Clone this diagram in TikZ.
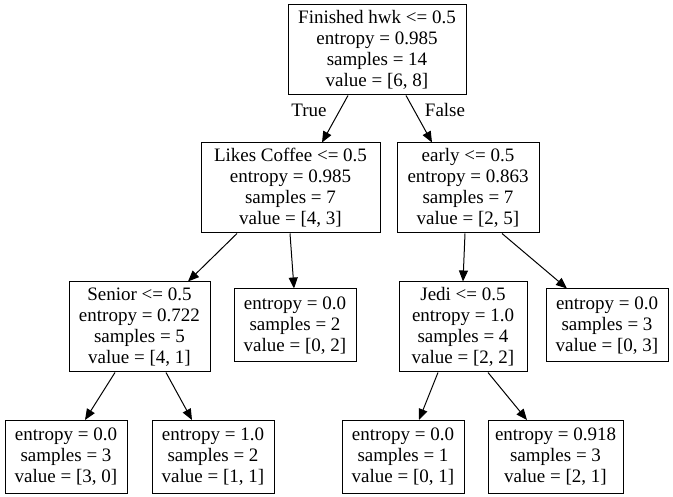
\documentclass[tikz,border=0pt]{standalone}
\usepackage{fontspec}
\setmainfont{Liberation Serif}
\usetikzlibrary{arrows.meta}
\begin{document}
\begin{tikzpicture}[x=1pt,y=-1pt,
 box/.style={draw,line width=1pt,rectangle,align=center,font=\fontsize{19}{21}\selectfont,inner sep=0pt},
 inner/.style={box,minimum height=90pt},
 leaf/.style={box,minimum width=122pt,minimum height=73pt},
 arr/.style={line width=1pt,-{Triangle[length=11pt,width=9pt]}},
 lbl/.style={font=\fontsize{19}{21}\selectfont,inner sep=0pt}]
\useasboundingbox (0,0) rectangle (673,497);
\node[inner,minimum width=178pt] (root) at (377,50) {Finished hwk <= 0.5\\entropy = 0.985\\samples = 14\\value = [6, 8]};
\node[inner,minimum width=179pt] (lc) at (290.5,188) {Likes Coffee <= 0.5\\entropy = 0.985\\samples = 7\\value = [4, 3]};
\node[inner,minimum width=142pt] (early) at (468,188) {early <= 0.5\\entropy = 0.863\\samples = 7\\value = [2, 5]};
\node[inner,minimum width=141pt] (senior) at (139.5,327) {Senior <= 0.5\\entropy = 0.722\\samples = 5\\value = [4, 1]};
\node[leaf] (l02) at (295,325.5) {entropy = 0.0\\samples = 2\\value = [0, 2]};
\node[inner,minimum width=128pt] (jedi) at (463,327) {Jedi <= 0.5\\entropy = 1.0\\samples = 4\\value = [2, 2]};
\node[leaf] (l03) at (607,325.5) {entropy = 0.0\\samples = 3\\value = [0, 3]};
\node[leaf] (l30) at (66,457) {entropy = 0.0\\samples = 3\\value = [3, 0]};
\node[leaf] (l11) at (213,457) {entropy = 1.0\\samples = 2\\value = [1, 1]};
\node[leaf] (l01) at (403,457) {entropy = 0.0\\samples = 1\\value = [0, 1]};
\node[leaf,minimum width=135pt] (l21) at (555.5,457) {entropy = 0.918\\samples = 3\\value = [2, 1]};
\draw[arr] ([xshift=-29pt]root.south) -- ([xshift=31.5pt]lc.north);
\draw[arr] ([xshift=29pt]root.south) -- ([xshift=-36pt]early.north);
\draw[arr] ([xshift=-53.5pt]lc.south) -- ([xshift=48.5pt]senior.north);
\draw[arr] ([xshift=-0.5pt]lc.south) -- ([xshift=-1pt]l02.north);
\draw[arr] ([xshift=-3pt]early.south) -- ([xshift=0pt]jedi.north);
\draw[arr] ([xshift=34pt]early.south) -- ([xshift=-40pt]l03.north);
\draw[arr] ([xshift=-24.5pt]senior.south) -- ([xshift=19pt]l30.north);
\draw[arr] ([xshift=26.5pt]senior.south) -- ([xshift=-21pt]l11.north);
\draw[arr] ([xshift=-25pt]jedi.south) -- ([xshift=16pt]l01.north);
\draw[arr] ([xshift=25pt]jedi.south) -- ([xshift=-28.5pt]l21.north);
\node[lbl] (t) at (309,110) {True};
\node[lbl] (f) at (445,110) {False};
\end{tikzpicture}
\end{document}
